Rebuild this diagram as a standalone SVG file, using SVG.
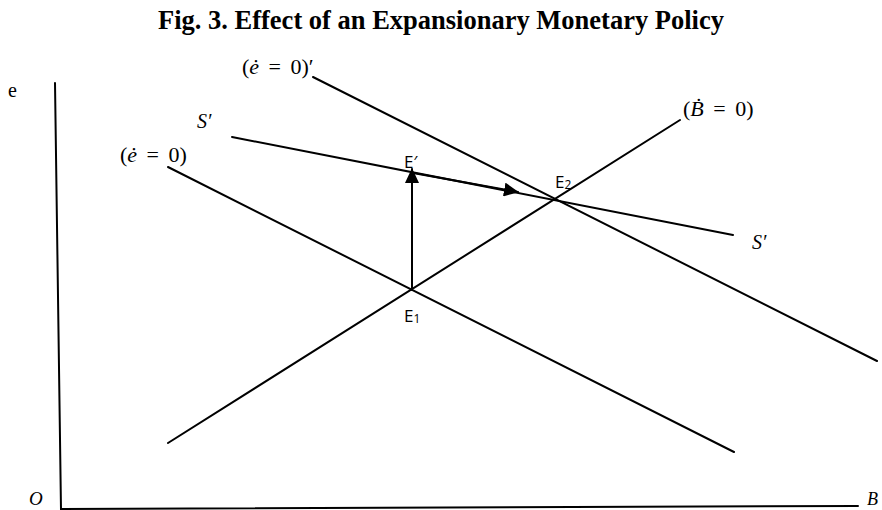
<svg xmlns="http://www.w3.org/2000/svg" width="882" height="510" viewBox="0 0 882 510">
<defs>
<marker id="ah" viewBox="0 0 15 14" refX="14" refY="7" markerWidth="15" markerHeight="14" markerUnits="userSpaceOnUse" orient="auto">
<path d="M0,0 L15,7 L0,14 Z" fill="#000"/>
</marker>
</defs>
<style>
.ln{stroke:#000;stroke-width:2;fill:none;stroke-linecap:round}
.ser{font-family:"Liberation Serif","DejaVu Serif",serif;fill:#000}
.math{font-family:"Liberation Serif","DejaVu Serif",serif;font-size:22px;word-spacing:4px;fill:#000}
.pt{font-family:"Open Sans","Noto Sans",sans-serif;font-size:17px;fill:#000}
</style>
<rect width="882" height="510" fill="#fff"/>
<text class="ser" x="441" y="29" font-size="26.5" font-weight="bold" text-anchor="middle">Fig. 3. Effect of an Expansionary Monetary Policy</text>
<g id="axes">
<line class="ln" x1="55" y1="83" x2="61" y2="510"/>
<line class="ln" x1="62" y1="509" x2="858" y2="506"/>
<text class="ser" x="8" y="97" font-size="20">e</text>
<text class="ser" x="29" y="505" font-size="19" font-style="italic">O</text>
<text class="ser" x="867" y="505" font-size="18" font-style="italic">B</text>
</g>
<g id="connectors">
<line id="edot0p" class="ln" x1="313" y1="77" x2="877" y2="361"/>
<line id="sprime" class="ln" x1="232" y1="137" x2="733" y2="235"/>
<line id="edot0" class="ln" x1="168" y1="167" x2="734" y2="452"/>
<line id="bdot0" class="ln" x1="168" y1="443" x2="680" y2="120"/>
<line id="jump" class="ln" x1="412" y1="290" x2="412" y2="169" marker-end="url(#ah)"/>
<line id="path" class="ln" x1="413" y1="173" x2="518" y2="192" marker-end="url(#ah)"/>
</g>
<g id="labels">
<text class="math" x="242" y="74">(<tspan font-style="italic">ė</tspan> = 0)′</text>
<text class="math" x="120" y="162">(<tspan font-style="italic">ė</tspan> = 0)</text>
<text class="math" x="683" y="116">(<tspan font-style="italic">Ḃ</tspan> = 0)</text>
<text class="ser" x="197" y="128" font-size="20" font-style="italic">S′</text>
<text class="ser" x="752" y="249" font-size="20" font-style="italic">S′</text>
</g>
<g id="E1"><text class="pt" x="404" y="322">E<tspan font-size="12" dy="1">1</tspan></text></g>
<g id="Eprime"><text class="pt" x="404" y="168">E′</text></g>
<g id="E2"><text class="pt" x="555" y="188">E<tspan font-size="12" dy="1">2</tspan></text></g>
</svg>
